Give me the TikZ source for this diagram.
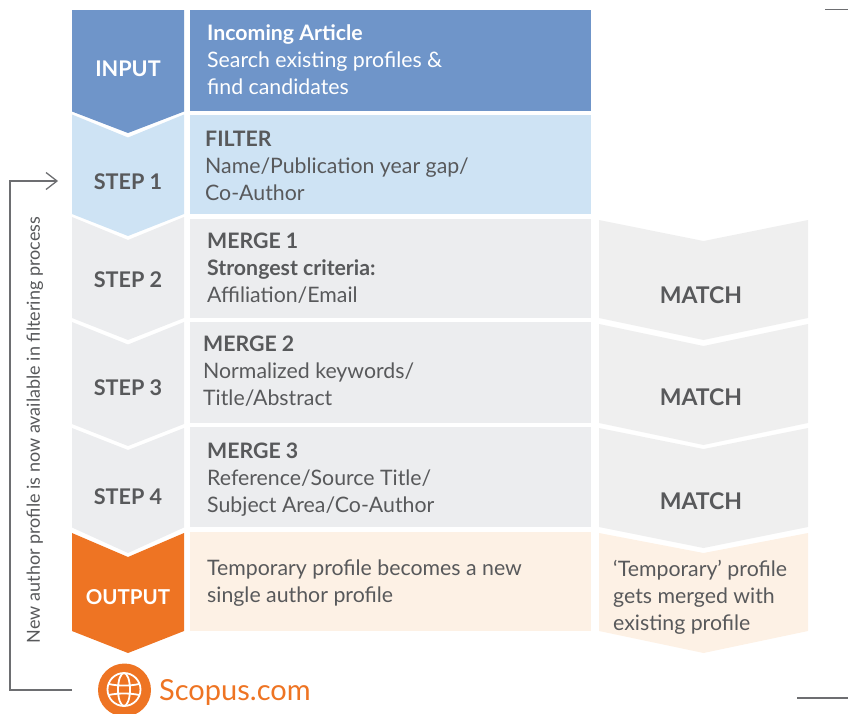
\documentclass[tikz,border=0pt]{standalone}
\usepackage{fontspec}
\setmainfont{Lato}
\definecolor{txt}{HTML}{58595B}
\definecolor{inblue}{HTML}{6F95C9}
\definecolor{ltblue}{HTML}{CEE3F4}
\definecolor{gr}{HTML}{ECEDEF}
\definecolor{grr}{HTML}{EFEFEF}
\definecolor{org}{HTML}{EE7423}
\definecolor{crm}{HTML}{FDF1E5}
\definecolor{ln}{HTML}{6D6E71}
\newcommand{\chev}[7]{\fill[#7] (#1,#3) -- (#1*.5+#2*.5,#4) -- (#2,#3) -- (#2,#5) -- (#1*.5+#2*.5,#6) -- (#1,#5) -- cycle;}
\newcommand{\tl}{\rule{0pt}{15pt}}
\tikzset{
  lab/.style={font=\fontsize{21.6}{20}\selectfont\bfseries,text=txt,inner sep=0pt,anchor=center},
  body/.style={font=\fontsize{21.3}{27}\selectfont,text=txt,inner sep=0pt,anchor=north west,align=left},
  match/.style={lab,font=\fontsize{23}{20}\selectfont\bfseries},
  conn/.style={draw=ln,line width=1.3pt},
  rule/.style={draw=ln,line width=1.2pt},
  globe/.style={draw=white,line width=1.8pt}
}
\begin{document}
\begin{tikzpicture}[x=1pt,y=-1pt]
\useasboundingbox (0,0) rectangle (848,713);
% left chevrons
\fill[inblue] (72,10) -- (184,10) -- (184,111.5) -- (128,133) -- (72,111.5) -- cycle;
\chev{72}{184}{114.5}{137.5}{214}{236}{ltblue}
\chev{72}{184}{217}{240}{318}{340}{gr}
\chev{72}{184}{322}{344.5}{424}{446}{gr}
\chev{72}{184}{428}{450}{527.5}{553}{gr}
\chev{72}{184}{533}{557}{631}{653}{org}
% middle panels
\fill[inblue] (190,10) rectangle (591,111);
\fill[ltblue] (190,115) rectangle (591,214);
\fill[gr] (190,219) rectangle (591,318);
\fill[gr] (190,322) rectangle (591,423);
\fill[gr] (190,427) rectangle (591,527);
\fill[crm] (190,532) rectangle (591,631);
% right chevrons
\chev{599}{808}{220}{241}{318}{340}{grr}
\chev{599}{808}{324}{346}{423}{445}{grr}
\chev{599}{808}{428}{449}{527}{548}{grr}
\chev{599}{808}{533}{553}{631}{653}{crm}
% left labels
\node[lab,text=white] (input) at (128,69) {INPUT};
\node[lab] (s1) at (128,182) {STEP 1};
\node[lab] (s2) at (128,280) {STEP 2};
\node[lab] (s3) at (128,388) {STEP 3};
\node[lab] (s4) at (128,497) {STEP 4};
\node[lab,text=white,font=\fontsize{20.5}{20}\selectfont\bfseries] (output) at (128,597) {OUTPUT};
% panel texts
\node[body,text=white] (t0) at (207,24) {\tl\textbf{Incoming Article}\\Search existing profiles \&\\find candidates};
\node[body] (t1) at (205,131) {\tl\textbf{FILTER}\\Name/Publication year gap/\\Co-Author};
\node[body] (t2) at (207,233) {\tl\textbf{MERGE 1}\\\textbf{Strongest criteria:}\\Affiliation/Email};
\node[body] (t3) at (203,336) {\tl\textbf{MERGE 2}\\Normalized keywords/\\Title/Abstract};
\node[body] (t4) at (207,443) {\tl\textbf{MERGE 3}\\Reference/Source Title/\\Subject Area/Co-Author};
\node[body] (t5) at (207,560) {\tl Temporary profile becomes a new\\single author profile};
\node[match] (m1) at (701,295) {MATCH};
\node[match] (m2) at (701,397) {MATCH};
\node[match] (m3) at (701,501) {MATCH};
\node[body] (t6) at (613,560) {\tl ‘Temporary’ profile\\gets merged with\\existing profile};
% feedback
\node[font=\fontsize{18}{18}\selectfont,text=txt,rotate=90,inner sep=0pt] (fb) at (35,430) {New author profile is now available in filtering process};
\coordinate (fbs) at (72,690);
\coordinate (fbe) at (57,181);
\draw[conn] (fbs) -- (10,690) -- (10,181) -- (fbe);
\draw[conn,line join=miter] (46,172.5) -- (fbe) -- (46,189.5);
% logo
\fill[org] (124.5,690) circle[radius=26.5];
\draw[globe] (124,689.5) circle[radius=16.5];
\draw[globe] (124,689.5) ellipse[x radius=6,y radius=16.5];
\draw[globe] (109,684) .. controls (117,686) and (131,686) .. (139,684);
\draw[globe] (109,695) .. controls (117,693) and (131,693) .. (139,695);
\node[font=\fontsize{29}{29}\selectfont,text=org,inner sep=0pt,anchor=base west] (sc) at (159,700) {Scopus.com};
% crop rules
\draw[rule] (825,9.5) -- (848,9.5);
\draw[rule] (797,698) -- (848,698);
\end{tikzpicture}
\end{document}
